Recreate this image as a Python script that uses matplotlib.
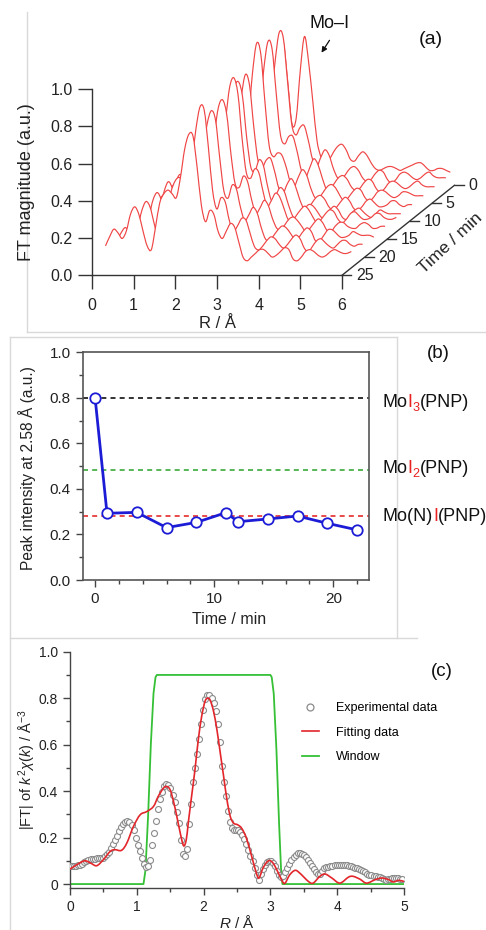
import numpy as np
import matplotlib
matplotlib.use('Agg')
import matplotlib.pyplot as plt
from matplotlib.lines import Line2D
from matplotlib.path import Path
from matplotlib.patches import PathPatch, FancyArrowPatch
from matplotlib.ticker import MultipleLocator, FuncFormatter

plt.rcParams['font.family'] = ['Liberation Sans', 'DejaVu Sans']
plt.rcParams['mathtext.fontset'] = 'custom'
plt.rcParams['mathtext.rm'] = 'Liberation Sans'
plt.rcParams['mathtext.it'] = 'Liberation Sans:italic'
plt.rcParams['mathtext.bf'] = 'Liberation Sans:bold'

# ---------------- data: panel (a) waterfall of FT magnitudes ----------------
R_a = np.round(np.arange(0, 5.95, 0.1), 1)          # 0.0 ... 5.9 Angstrom
times_a = [0, 1, 3.5, 6, 8.5, 11, 12, 14.5, 17, 19.5, 22]   # min (back -> front)

ft_00 = [0.10, 0.14, 0.17, 0.15, 0.13, 0.17, 0.26, 0.30, 0.27, 0.18,
         0.10, 0.12, 0.25, 0.38, 0.44, 0.46, 0.48, 0.62, 0.78, 0.76,
         0.55, 0.33, 0.36, 0.62, 0.80, 0.66, 0.45, 0.24, 0.15, 0.12,
         0.14, 0.18, 0.21, 0.22, 0.19, 0.14, 0.13, 0.16, 0.18, 0.16,
         0.12, 0.09, 0.08, 0.09, 0.10, 0.10, 0.09, 0.08, 0.09, 0.10,
         0.11, 0.12, 0.12, 0.10, 0.08, 0.08, 0.09, 0.09, 0.08, 0.07]
ft_01 = [0.09, 0.13, 0.16, 0.14, 0.12, 0.16, 0.25, 0.30, 0.26, 0.17,
         0.09, 0.10, 0.22, 0.35, 0.40, 0.42, 0.39, 0.46, 0.68, 0.84,
         0.81, 0.58, 0.35, 0.29, 0.33, 0.34, 0.26, 0.16, 0.12, 0.17,
         0.21, 0.18, 0.11, 0.06, 0.05, 0.08, 0.11, 0.12, 0.10, 0.06,
         0.04, 0.05, 0.08, 0.10, 0.09, 0.05, 0.03, 0.05, 0.08, 0.09,
         0.08, 0.06, 0.05, 0.06, 0.08, 0.09, 0.07, 0.06, 0.06, 0.06]
ft_035 = [0.09, 0.13, 0.16, 0.14, 0.12, 0.16, 0.26, 0.30, 0.26, 0.17,
          0.09, 0.10, 0.22, 0.35, 0.40, 0.42, 0.39, 0.46, 0.69, 0.84,
          0.80, 0.56, 0.34, 0.29, 0.33, 0.33, 0.25, 0.15, 0.11, 0.16,
          0.21, 0.18, 0.11, 0.05, 0.05, 0.08, 0.11, 0.12, 0.10, 0.06,
          0.04, 0.05, 0.08, 0.10, 0.09, 0.05, 0.03, 0.05, 0.08, 0.09,
          0.08, 0.06, 0.05, 0.06, 0.08, 0.09, 0.07, 0.06, 0.06, 0.06]
ft_06 = [0.08, 0.13, 0.16, 0.14, 0.12, 0.16, 0.25, 0.30, 0.26, 0.17,
         0.09, 0.10, 0.23, 0.36, 0.41, 0.42, 0.39, 0.47, 0.72, 0.88,
         0.82, 0.56, 0.33, 0.27, 0.29, 0.28, 0.22, 0.14, 0.11, 0.16,
         0.20, 0.17, 0.10, 0.05, 0.05, 0.08, 0.11, 0.12, 0.10, 0.06,
         0.03, 0.05, 0.08, 0.10, 0.09, 0.05, 0.03, 0.05, 0.08, 0.09,
         0.08, 0.06, 0.05, 0.06, 0.08, 0.08, 0.07, 0.06, 0.06, 0.06]
ft_085 = [0.09, 0.14, 0.17, 0.15, 0.13, 0.17, 0.26, 0.30, 0.25, 0.16,
          0.09, 0.10, 0.23, 0.35, 0.40, 0.41, 0.38, 0.45, 0.64, 0.76,
          0.70, 0.48, 0.30, 0.26, 0.30, 0.31, 0.24, 0.15, 0.12, 0.17,
          0.20, 0.16, 0.09, 0.04, 0.04, 0.07, 0.10, 0.11, 0.09, 0.05,
          0.03, 0.05, 0.08, 0.10, 0.08, 0.04, 0.03, 0.05, 0.08, 0.09,
          0.07, 0.05, 0.05, 0.06, 0.08, 0.08, 0.06, 0.05, 0.06, 0.06]
ft_11 = [0.09, 0.13, 0.16, 0.14, 0.12, 0.16, 0.25, 0.30, 0.26, 0.17,
         0.09, 0.09, 0.21, 0.33, 0.38, 0.40, 0.38, 0.38, 0.56, 0.73,
         0.77, 0.69, 0.47, 0.31, 0.29, 0.35, 0.32, 0.21, 0.13, 0.16,
         0.20, 0.18, 0.11, 0.05, 0.03, 0.06, 0.09, 0.11, 0.10, 0.07,
         0.04, 0.05, 0.08, 0.10, 0.08, 0.04, 0.03, 0.06, 0.08, 0.09,
         0.07, 0.05, 0.04, 0.06, 0.08, 0.07, 0.06, 0.06, 0.06, 0.06]
ft_12 = [0.08, 0.12, 0.15, 0.14, 0.12, 0.15, 0.24, 0.29, 0.26, 0.17,
         0.09, 0.10, 0.22, 0.34, 0.39, 0.41, 0.38, 0.39, 0.58, 0.76,
         0.81, 0.72, 0.48, 0.30, 0.27, 0.32, 0.30, 0.20, 0.12, 0.15,
         0.19, 0.17, 0.11, 0.05, 0.04, 0.07, 0.10, 0.12, 0.10, 0.06,
         0.03, 0.05, 0.08, 0.10, 0.09, 0.05, 0.03, 0.05, 0.08, 0.09,
         0.07, 0.05, 0.05, 0.06, 0.08, 0.08, 0.06, 0.05, 0.05, 0.06]
ft_145 = [0.09, 0.14, 0.17, 0.15, 0.12, 0.16, 0.25, 0.30, 0.26, 0.17,
          0.10, 0.09, 0.21, 0.33, 0.38, 0.40, 0.37, 0.38, 0.55, 0.70,
          0.74, 0.66, 0.45, 0.29, 0.27, 0.33, 0.30, 0.20, 0.13, 0.16,
          0.20, 0.17, 0.10, 0.05, 0.04, 0.07, 0.10, 0.11, 0.09, 0.06,
          0.03, 0.05, 0.08, 0.10, 0.08, 0.04, 0.03, 0.06, 0.08, 0.08,
          0.06, 0.05, 0.05, 0.07, 0.08, 0.07, 0.05, 0.05, 0.06, 0.06]
ft_17 = [0.09, 0.13, 0.16, 0.14, 0.12, 0.16, 0.25, 0.29, 0.25, 0.16,
         0.09, 0.09, 0.21, 0.33, 0.38, 0.39, 0.37, 0.37, 0.52, 0.66,
         0.73, 0.68, 0.48, 0.30, 0.26, 0.33, 0.31, 0.21, 0.14, 0.17,
         0.21, 0.18, 0.10, 0.04, 0.03, 0.06, 0.09, 0.11, 0.10, 0.07,
         0.04, 0.05, 0.08, 0.10, 0.08, 0.03, 0.03, 0.06, 0.09, 0.09,
         0.07, 0.05, 0.05, 0.06, 0.08, 0.07, 0.06, 0.06, 0.06, 0.05]
ft_195 = [0.08, 0.12, 0.15, 0.13, 0.11, 0.15, 0.24, 0.29, 0.26, 0.17,
          0.09, 0.10, 0.22, 0.34, 0.40, 0.42, 0.39, 0.38, 0.50, 0.68,
          0.80, 0.78, 0.58, 0.35, 0.25, 0.31, 0.29, 0.19, 0.13, 0.16,
          0.20, 0.19, 0.12, 0.05, 0.03, 0.05, 0.08, 0.10, 0.09, 0.06,
          0.04, 0.06, 0.09, 0.11, 0.09, 0.04, 0.02, 0.05, 0.08, 0.09,
          0.07, 0.05, 0.04, 0.06, 0.08, 0.08, 0.06, 0.05, 0.06, 0.06]
ft_22 = [0.10, 0.15, 0.19, 0.17, 0.14, 0.18, 0.27, 0.31, 0.27, 0.18,
         0.10, 0.08, 0.20, 0.33, 0.38, 0.40, 0.38, 0.36, 0.47, 0.62,
         0.70, 0.69, 0.52, 0.32, 0.23, 0.29, 0.27, 0.18, 0.14, 0.18,
         0.22, 0.20, 0.12, 0.04, 0.02, 0.04, 0.06, 0.08, 0.08, 0.06,
         0.04, 0.05, 0.07, 0.09, 0.08, 0.03, 0.02, 0.04, 0.07, 0.08,
         0.07, 0.05, 0.04, 0.05, 0.07, 0.08, 0.07, 0.06, 0.06, 0.07]
curves_a = [ft_00, ft_01, ft_035, ft_06, ft_085, ft_11, ft_12, ft_145, ft_17, ft_195, ft_22]
time_ticks_a = [0, 5, 10, 15, 20, 25]

# ---------------- data: panel (b) ----------------
time_b = [0, 1, 3.5, 6, 8.5, 11, 12, 14.5, 17, 19.5, 22]
peak_b = [0.80, 0.293, 0.297, 0.230, 0.253, 0.296, 0.256, 0.268, 0.281, 0.249, 0.220]
ref_levels = [0.80, 0.483, 0.280]
ref_colors = ['#111111', '#3aaa3a', '#e52b2b']

# ---------------- data: panel (c) ----------------
R_exp = np.arange(163) * 0.0307
ft_exp = [0.076, 0.077, 0.078, 0.079, 0.081, 0.083, 0.088, 0.094, 0.100, 0.104,
          0.106, 0.108, 0.109, 0.110, 0.110, 0.111, 0.114, 0.120, 0.128, 0.140,
          0.155, 0.172, 0.190, 0.208, 0.228, 0.246, 0.258, 0.266, 0.270, 0.267,
          0.255, 0.232, 0.200, 0.170, 0.142, 0.112, 0.085, 0.073, 0.076, 0.105,
          0.170, 0.218, 0.270, 0.322, 0.365, 0.398, 0.420, 0.430, 0.428, 0.415,
          0.385, 0.355, 0.312, 0.262, 0.190, 0.128, 0.121, 0.150, 0.260, 0.345,
          0.440, 0.500, 0.560, 0.625, 0.690, 0.750, 0.795, 0.815, 0.815, 0.800,
          0.780, 0.745, 0.690, 0.610, 0.510, 0.440, 0.380, 0.315, 0.268, 0.242,
          0.234, 0.232, 0.232, 0.225, 0.212, 0.195, 0.172, 0.148, 0.120, 0.098,
          0.070, 0.040, 0.019, 0.042, 0.065, 0.082, 0.093, 0.100, 0.098, 0.090,
          0.076, 0.058, 0.038, 0.030, 0.034, 0.050, 0.070, 0.088, 0.105, 0.116,
          0.125, 0.132, 0.133, 0.130, 0.124, 0.115, 0.105, 0.092, 0.078, 0.064,
          0.052, 0.042, 0.045, 0.058, 0.067, 0.072, 0.075, 0.077, 0.079, 0.081,
          0.082, 0.083, 0.083, 0.083, 0.082, 0.081, 0.079, 0.077, 0.074, 0.071,
          0.068, 0.064, 0.060, 0.055, 0.050, 0.045, 0.041, 0.038, 0.036, 0.034,
          0.032, 0.029, 0.025, 0.021, 0.019, 0.020, 0.023, 0.025, 0.026, 0.026,
          0.025, 0.022, 0.020]
R_fit = [0.00, 0.10, 0.22, 0.31, 0.40, 0.50, 0.60, 0.67, 0.77, 0.85, 0.95, 1.05, 1.15,
         1.25, 1.32, 1.40, 1.45, 1.50, 1.55, 1.60, 1.65, 1.70, 1.74, 1.77, 1.82, 1.87,
         1.92, 1.97, 2.02, 2.06, 2.10, 2.15, 2.20, 2.25, 2.30, 2.35, 2.40, 2.45, 2.51,
         2.57, 2.64, 2.72, 2.79, 2.83, 2.89, 2.97, 3.04, 3.12, 3.18, 3.22, 3.29, 3.37,
         3.44, 3.57, 3.64, 3.74, 3.82, 3.92, 4.04, 4.17, 4.24, 4.34, 4.44, 4.57, 4.67,
         4.77, 4.84, 4.92, 5.00]
ft_fit = [0.064, 0.083, 0.100, 0.090, 0.079, 0.105, 0.140, 0.148, 0.145, 0.176, 0.248,
          0.298, 0.312, 0.334, 0.377, 0.413, 0.420, 0.405, 0.355, 0.290, 0.220, 0.165,
          0.190, 0.262, 0.377, 0.490, 0.620, 0.720, 0.785, 0.800, 0.790, 0.742, 0.663,
          0.563, 0.463, 0.362, 0.290, 0.262, 0.255, 0.240, 0.198, 0.119, 0.047, 0.026,
          0.069, 0.100, 0.090, 0.047, 0.011, 0.004, 0.040, 0.059, 0.047, 0.011, 0.004,
          0.033, 0.043, 0.026, 0.004, 0.030, 0.033, 0.021, 0.004, 0.019, 0.026, 0.019,
          0.009, 0.016, 0.011]
R_win = [0.00, 1.10, 1.13, 1.17, 1.21, 1.25, 1.28, 1.30, 3.00, 3.02, 3.05, 3.09, 3.13,
         3.16, 3.18, 5.00]
win = [0.0, 0.0, 0.06, 0.30, 0.60, 0.82, 0.89, 0.90, 0.90, 0.89, 0.82, 0.58, 0.26,
       0.06, 0.0, 0.0]

# ---------------- helpers ----------------
W, H = 486, 930
fig = plt.figure(figsize=(W / 100, H / 100), dpi=100)


def rect(x0, y0, x1, y1):
    return [x0 / W, 1 - y1 / H, (x1 - x0) / W, (y1 - y0) / H]


def fx(x):
    return x / W


def fy(y):
    return 1 - y / H


def smooth_verts(x, y):
    """Smooth (Catmull-Rom as cubic Bezier) rendering through the given points."""
    p = np.column_stack([x, y]).astype(float)
    verts = [p[0]]
    codes = [Path.MOVETO]
    m = len(p)
    for i in range(m - 1):
        p0 = p[i - 1] if i > 0 else p[i]
        p1, p2 = p[i], p[i + 1]
        p3 = p[i + 2] if i + 2 < m else p[i + 1]
        verts += [p1 + (p2 - p0) / 6.0, p2 - (p3 - p1) / 6.0, p2]
        codes += [Path.CURVE4] * 3
    return verts, codes


GRAY = '#d9d9d9'
for (xa, ya, xb, yb) in [(26.7, 12, 26.7, 331.7), (26.7, 331.7, 486, 331.7),
                         (10, 337, 397, 337), (397, 337, 397, 638), (10, 337, 10, 930),
                         (10, 638, 417, 638)]:
    fig.add_artist(Line2D([fx(xa), fx(xb)], [fy(ya), fy(yb)], color=GRAY, lw=1.0))

AXC = '#333333'

# ---------------- panel (a) ----------------
pxR, pxV = 41.667, 186.0
axA = fig.add_axes(rect(92, 5, 480, 275.3))
axA.set_xlim(0, (480 - 92) / pxR)
axA.set_ylim(0, (275.3 - 5) / pxV)
axA.patch.set_alpha(0)
for s in ['top', 'right']:
    axA.spines[s].set_visible(False)
axA.spines['left'].set_bounds(0, 1.0)
axA.spines['bottom'].set_bounds(0, 6)
for s in ['left', 'bottom']:
    axA.spines[s].set_color(AXC)
    axA.spines[s].set_linewidth(1.0)
axA.set_xticks(range(0, 7))
axA.set_yticks([0, 0.2, 0.4, 0.6, 0.8, 1.0])
axA.yaxis.set_major_formatter(FuncFormatter(lambda v, p: f'{v:.1f}'))
axA.tick_params(direction='out', length=10, width=1.0, color=AXC, labelsize=11.5,
                labelcolor='#222222')
axA.tick_params(axis='x', pad=6)
axA.tick_params(axis='y', pad=4)

DX, DY, TMAX = 2.7, 0.484, 25.0
RED_A = '#f04545'
for i, (t, vals) in enumerate(zip(times_a, curves_a)):
    f = (TMAX - t) / TMAX
    ox, oy = f * DX, f * DY
    x = R_a + ox
    y = np.array(vals) + oy
    verts, codes = smooth_verts(x, y)
    # hidden-line removal: white area under each curve, drawn back to front
    fill_verts = verts + [(x[-1], oy), (x[0], oy), verts[0]]
    fill_codes = codes + [Path.LINETO, Path.LINETO, Path.CLOSEPOLY]
    axA.add_patch(PathPatch(Path(fill_verts, fill_codes), facecolor='white',
                            edgecolor='none', zorder=2 + 2 * i))
    axA.add_patch(PathPatch(Path(verts, codes), facecolor='none', edgecolor=RED_A,
                            lw=0.85, zorder=3 + 2 * i))

# time axis
axA.plot([6, 6 + DX], [0, DY], color=AXC, lw=1.0, zorder=40, clip_on=False)
for t in time_ticks_a:
    f = (TMAX - t) / TMAX
    x0, y0 = 6 + f * DX, f * DY
    axA.plot([x0, x0 + 0.22], [y0, y0], color=AXC, lw=1.0, zorder=40, clip_on=False)
    axA.text(x0 + 0.33, y0, str(t), ha='left', va='center', fontsize=11.5,
             color='#222222', zorder=41)

fig.text(fx(217), fy(323), 'R / Å', ha='center', va='center', fontsize=12, color='#222222')
fig.text(fx(27), fy(182), 'FT magnitude (a.u.)', ha='center', va='center',
         rotation=90, fontsize=13, color='#222222')
fig.text(fx(450), fy(243), 'Time / min', ha='center', va='center', rotation=43,
         fontsize=12.5, color='#222222')
fig.text(fx(330), fy(23), 'Mo–I', ha='center', va='center', fontsize=13, color='#111111')
fig.text(fx(431), fy(40), '(a)', ha='center', va='center', fontsize=14, color='#111111')
fig.add_artist(FancyArrowPatch(
    (fx(331), fy(38)), (fx(320), fy(55)), transform=fig.transFigure,
    arrowstyle='-|>', mutation_scale=8, lw=0.9, color='#111111'))

# ---------------- panel (b) ----------------
axB = fig.add_axes(rect(82.7, 352.3, 369, 580))
axB.set_xlim(-1.04, 23.0)
axB.set_ylim(0, 1.0)
for lvl, col in zip(ref_levels, ref_colors):
    axB.axhline(lvl, color=col, lw=1.2, ls=(0, (3, 2.5)), zorder=2)
axB.plot(time_b, peak_b, '-o', color='#1c1cd6', lw=2.0, ms=7.5, mfc='white',
         mec='#1c1cd6', mew=1.3, zorder=5, clip_on=False)
axB.xaxis.set_major_locator(MultipleLocator(10))
axB.xaxis.set_minor_locator(MultipleLocator(2))
axB.yaxis.set_major_locator(MultipleLocator(0.2))
axB.yaxis.set_minor_locator(MultipleLocator(0.1))
axB.yaxis.set_major_formatter(FuncFormatter(lambda v, p: f'{v:.1f}'))
axB.tick_params(which='major', direction='out', length=5, width=1.0, color='#444444',
                labelsize=11, labelcolor='#222222', top=False, right=False)
axB.tick_params(which='minor', direction='out', length=3, width=1.0, color='#444444',
                top=False, right=False)
for s in axB.spines.values():
    s.set_color('#555555')
    s.set_linewidth(1.2)
fig.text(fx(27), fy(468), 'Peak intensity at 2.58 Å (a.u.)', ha='center', va='center',
         rotation=90, fontsize=11.2, color='#222222')
fig.text(fx(229), fy(620), 'Time / min', ha='center', va='center', fontsize=11.5,
         color='#222222')
fig.text(fx(438), fy(353), '(b)', ha='center', va='center', fontsize=13.5, color='#111111')

# multicolour labels
fig.canvas.draw()
renderer = fig.canvas.get_renderer()
RED_T = '#e8201f'


def multi_text(x_px, base_px, pieces, fs=13):
    x = x_px
    for s, col, scale, dy in pieces:
        t = fig.text(fx(x), fy(base_px + dy), s, color=col, fontsize=fs * scale,
                     ha='left', va='baseline')
        bb = t.get_window_extent(renderer)
        x += bb.width


multi_text(382.7, 407, [('Mo', '#111111', 1, 0), ('I', RED_T, 1, 0), ('3', RED_T, 0.7, 3.5),
                        ('(PNP)', '#111111', 1, 0)])
multi_text(382.7, 473.3, [('Mo', '#111111', 1, 0), ('I', RED_T, 1, 0), ('2', RED_T, 0.7, 3.5),
                          ('(PNP)', '#111111', 1, 0)])
multi_text(382.7, 520.7, [('Mo(N)', '#111111', 1, 0), ('I', RED_T, 1, 0),
                          ('(PNP)', '#111111', 1, 0)])

# ---------------- panel (c) ----------------
axC = fig.add_axes(rect(70, 651.7, 404, 888))
axC.set_xlim(0, 5)
axC.set_ylim(-0.017, 1.0)
axC.plot(R_win, win, color='#35c035', lw=1.3, zorder=2)
axC.plot(R_exp, ft_exp, 'o', ls='none', ms=4.3, mfc='white', mec='#8a8a8a', mew=0.8,
         zorder=3)
fv, fc = smooth_verts(R_fit, ft_fit)
axC.add_patch(PathPatch(Path(fv, fc), facecolor='none', edgecolor='#e3262b', lw=1.2,
                        zorder=4))
for s in ['top', 'right']:
    axC.spines[s].set_visible(False)
for s in ['left', 'bottom']:
    axC.spines[s].set_color('#444444')
    axC.spines[s].set_linewidth(1.0)
axC.xaxis.set_major_locator(MultipleLocator(1))
axC.xaxis.set_minor_locator(MultipleLocator(0.5))
axC.yaxis.set_major_locator(MultipleLocator(0.2))
axC.yaxis.set_minor_locator(MultipleLocator(0.1))
axC.yaxis.set_major_formatter(FuncFormatter(lambda v, p: '0' if abs(v) < 1e-9 else f'{v:.1f}'))
axC.tick_params(which='major', direction='out', length=5, width=1.0, color='#444444',
                labelsize=10, labelcolor='#222222')
axC.tick_params(which='minor', direction='out', length=3, width=1.0, color='#444444')
fig.text(fx(27), fy(770), r'|FT| of $k^{2}\chi(k)$ / Å$^{-3}$', ha='center', va='center',
         rotation=90, fontsize=10.5, color='#222222')
fig.text(fx(237), fy(922), r'$R$ / Å', ha='center', va='center', fontsize=11,
         color='#222222')
fig.text(fx(442), fy(672), '(c)', ha='center', va='center', fontsize=13.5, color='#111111')

h_exp = Line2D([], [], marker='o', ls='none', ms=5, mfc='white', mec='#8a8a8a', mew=0.9)
h_fit = Line2D([], [], color='#e3262b', lw=1.2)
h_win = Line2D([], [], color='#35c035', lw=1.3)
fig.legend([h_exp, h_fit, h_win], ['Experimental data', 'Fitting data', 'Window'],
           loc='upper left', bbox_to_anchor=(fx(302), fy(702)), frameon=False,
           fontsize=9, handlelength=1.35, handletextpad=1.35, labelspacing=1.0,
           borderpad=0, borderaxespad=0)

fig.savefig('out.png', dpi=100)
